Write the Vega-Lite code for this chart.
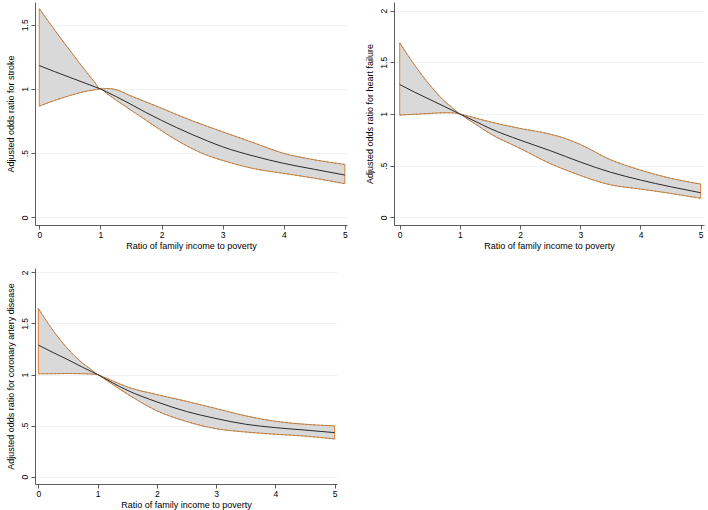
{
  "$schema": "https://vega.github.io/schema/vega-lite/v6.json",
  "background": "white",
  "padding": {"left": 6, "top": 2, "right": 2, "bottom": 0},
  "bounds": "flush",
  "columns": 2,
  "spacing": {"row": 43, "column": 47},
  "datasets": {
    "stroke": [
      {"x": 0, "lo": 0.866, "est": 1.182, "hi": 1.625},
      {"x": 0.25, "lo": 0.91, "est": 1.135, "hi": 1.46},
      {"x": 0.5, "lo": 0.948, "est": 1.09, "hi": 1.3},
      {"x": 0.75, "lo": 0.98, "est": 1.045, "hi": 1.145},
      {"x": 0.9, "lo": 0.993, "est": 1.018, "hi": 1.056},
      {"x": 1, "lo": 1, "est": 1, "hi": 1},
      {"x": 1.1, "lo": 0.966, "est": 0.977, "hi": 1.003},
      {"x": 1.25, "lo": 0.915, "est": 0.942, "hi": 0.995},
      {"x": 1.5, "lo": 0.835, "est": 0.88, "hi": 0.945},
      {"x": 1.75, "lo": 0.755, "est": 0.815, "hi": 0.898},
      {"x": 2, "lo": 0.675, "est": 0.755, "hi": 0.85},
      {"x": 2.25, "lo": 0.6, "est": 0.698, "hi": 0.8},
      {"x": 2.5, "lo": 0.535, "est": 0.645, "hi": 0.752},
      {"x": 2.75, "lo": 0.482, "est": 0.595, "hi": 0.708},
      {"x": 3, "lo": 0.443, "est": 0.549, "hi": 0.666},
      {"x": 3.5, "lo": 0.38, "est": 0.478, "hi": 0.582},
      {"x": 4, "lo": 0.342, "est": 0.42, "hi": 0.498},
      {"x": 4.5, "lo": 0.305, "est": 0.374, "hi": 0.448},
      {"x": 5, "lo": 0.262, "est": 0.329, "hi": 0.412}
    ],
    "hf": [
      {"x": 0, "lo": 0.989, "est": 1.285, "hi": 1.688},
      {"x": 0.25, "lo": 0.997, "est": 1.21, "hi": 1.47},
      {"x": 0.5, "lo": 1.005, "est": 1.14, "hi": 1.28},
      {"x": 0.75, "lo": 1.012, "est": 1.07, "hi": 1.12},
      {"x": 0.9, "lo": 1.01, "est": 1.028, "hi": 1.048},
      {"x": 1, "lo": 1, "est": 1, "hi": 1},
      {"x": 1.1, "lo": 0.962, "est": 0.972, "hi": 0.985},
      {"x": 1.25, "lo": 0.905, "est": 0.93, "hi": 0.962},
      {"x": 1.5, "lo": 0.81, "est": 0.86, "hi": 0.924},
      {"x": 2, "lo": 0.667, "est": 0.747, "hi": 0.86},
      {"x": 2.5, "lo": 0.52, "est": 0.645, "hi": 0.805},
      {"x": 2.75, "lo": 0.46, "est": 0.59, "hi": 0.763},
      {"x": 3, "lo": 0.405, "est": 0.535, "hi": 0.705},
      {"x": 3.5, "lo": 0.315, "est": 0.437, "hi": 0.558},
      {"x": 4, "lo": 0.274, "est": 0.361, "hi": 0.457},
      {"x": 4.5, "lo": 0.232, "est": 0.296, "hi": 0.378},
      {"x": 5, "lo": 0.184, "est": 0.238, "hi": 0.322}
    ],
    "cad": [
      {"x": 0, "lo": 1.007, "est": 1.288, "hi": 1.647},
      {"x": 0.25, "lo": 1.008, "est": 1.215, "hi": 1.43},
      {"x": 0.5, "lo": 1.01, "est": 1.145, "hi": 1.25},
      {"x": 0.75, "lo": 1.008, "est": 1.07, "hi": 1.11},
      {"x": 0.9, "lo": 1.004, "est": 1.028, "hi": 1.045},
      {"x": 1, "lo": 1, "est": 1, "hi": 1},
      {"x": 1.1, "lo": 0.963, "est": 0.968, "hi": 0.976},
      {"x": 1.25, "lo": 0.905, "est": 0.92, "hi": 0.94},
      {"x": 1.5, "lo": 0.81, "est": 0.846, "hi": 0.879},
      {"x": 2, "lo": 0.645, "est": 0.732, "hi": 0.804},
      {"x": 2.5, "lo": 0.54, "est": 0.638, "hi": 0.738},
      {"x": 3, "lo": 0.47, "est": 0.569, "hi": 0.667},
      {"x": 3.5, "lo": 0.437, "est": 0.513, "hi": 0.595},
      {"x": 4, "lo": 0.415, "est": 0.48, "hi": 0.542},
      {"x": 4.5, "lo": 0.397, "est": 0.456, "hi": 0.513},
      {"x": 5, "lo": 0.369, "est": 0.431, "hi": 0.497}
    ]
  },
  "concat": [
    {
      "width": 312, "height": 223,
      "data": {"name": "stroke"},
      "encoding": {
        "x": {"field": "x", "type": "quantitative", "title": "Ratio of family income to poverty",
              "scale": {"domain": [-0.07, 5.035], "nice": false, "zero": false},
              "axis": {"values": [0, 1, 2, 3, 4, 5]}}
      },
      "layer": [
        {"mark": {"type": "area", "fill": "#d9d9d9", "stroke": "#e0832f", "strokeWidth": 1, "interpolate": "monotone"},
         "encoding": {"y": {"field": "lo", "type": "quantitative", "title": "Adjusted odds ratio for stroke",
                            "scale": {"domain": [-0.06, 1.677], "nice": false, "zero": false},
                            "axis": {"values": [0, 0.5, 1, 1.5]}},
                      "y2": {"field": "hi"}}},
        {"mark": {"type": "line", "color": "#777777", "strokeWidth": 0.6, "strokeDash": [2, 2], "interpolate": "monotone"},
         "encoding": {"y": {"field": "lo", "type": "quantitative", "title": "Adjusted odds ratio for stroke"}}},
        {"mark": {"type": "line", "color": "#777777", "strokeWidth": 0.6, "strokeDash": [2, 2], "interpolate": "monotone"},
         "encoding": {"y": {"field": "hi", "type": "quantitative", "title": "Adjusted odds ratio for stroke"}}},
        {"mark": {"type": "line", "color": "#2a2a2a", "strokeWidth": 1, "interpolate": "monotone"},
         "encoding": {"y": {"field": "est", "type": "quantitative", "title": "Adjusted odds ratio for stroke"}}}
      ]
    },
    {
      "width": 310, "height": 223,
      "data": {"name": "hf"},
      "encoding": {
        "x": {"field": "x", "type": "quantitative", "title": "Ratio of family income to poverty",
              "scale": {"domain": [-0.095, 5.055], "nice": false, "zero": false},
              "axis": {"values": [0, 1, 2, 3, 4, 5]}}
      },
      "layer": [
        {"mark": {"type": "area", "fill": "#d9d9d9", "stroke": "#e0832f", "strokeWidth": 1, "interpolate": "monotone"},
         "encoding": {"y": {"field": "lo", "type": "quantitative", "title": "Adjusted odds ratio for heart failure",
                            "scale": {"domain": [-0.074, 2.083], "nice": false, "zero": false},
                            "axis": {"values": [0, 0.5, 1, 1.5, 2]}},
                      "y2": {"field": "hi"}}},
        {"mark": {"type": "line", "color": "#777777", "strokeWidth": 0.6, "strokeDash": [2, 2], "interpolate": "monotone"},
         "encoding": {"y": {"field": "lo", "type": "quantitative", "title": "Adjusted odds ratio for heart failure"}}},
        {"mark": {"type": "line", "color": "#777777", "strokeWidth": 0.6, "strokeDash": [2, 2], "interpolate": "monotone"},
         "encoding": {"y": {"field": "hi", "type": "quantitative", "title": "Adjusted odds ratio for heart failure"}}},
        {"mark": {"type": "line", "color": "#2a2a2a", "strokeWidth": 1, "interpolate": "monotone"},
         "encoding": {"y": {"field": "est", "type": "quantitative", "title": "Adjusted odds ratio for heart failure"}}}
      ]
    },
    {
      "width": 302, "height": 216,
      "data": {"name": "cad"},
      "encoding": {
        "x": {"field": "x", "type": "quantitative", "title": "Ratio of family income to poverty",
              "scale": {"domain": [-0.056, 5.04], "nice": false, "zero": false},
              "axis": {"values": [0, 1, 2, 3, 4, 5]}}
      },
      "layer": [
        {"mark": {"type": "area", "fill": "#d9d9d9", "stroke": "#e0832f", "strokeWidth": 1, "interpolate": "monotone"},
         "encoding": {"y": {"field": "lo", "type": "quantitative", "title": "Adjusted odds ratio for coronary artery disease",
                            "scale": {"domain": [-0.072, 2.043], "nice": false, "zero": false},
                            "axis": {"values": [0, 0.5, 1, 1.5, 2]}},
                      "y2": {"field": "hi"}}},
        {"mark": {"type": "line", "color": "#777777", "strokeWidth": 0.6, "strokeDash": [2, 2], "interpolate": "monotone"},
         "encoding": {"y": {"field": "lo", "type": "quantitative", "title": "Adjusted odds ratio for coronary artery disease"}}},
        {"mark": {"type": "line", "color": "#777777", "strokeWidth": 0.6, "strokeDash": [2, 2], "interpolate": "monotone"},
         "encoding": {"y": {"field": "hi", "type": "quantitative", "title": "Adjusted odds ratio for coronary artery disease"}}},
        {"mark": {"type": "line", "color": "#2a2a2a", "strokeWidth": 1, "interpolate": "monotone"},
         "encoding": {"y": {"field": "est", "type": "quantitative", "title": "Adjusted odds ratio for coronary artery disease"}}}
      ]
    }
  ],
  "config": {
    "font": "Liberation Sans",
    "view": {"stroke": null},
    "axis": {
      "domainColor": "#333333", "domainWidth": 0.8,
      "tickColor": "#333333", "tickWidth": 0.8, "tickSize": 4,
      "labelColor": "#000000", "labelFontSize": 8.5, "labelFont": "Liberation Sans",
      "titleColor": "#000000", "titleFontSize": 9, "titleFontWeight": "normal", "titleFont": "Liberation Sans"
    },
    "axisX": {
      "grid": false, "labelPadding": 1, "labelAngle": 0, "minExtent": 13.5, "maxExtent": 13.5, "titlePadding": 3
    },
    "axisY": {
      "grid": true, "gridColor": "#e8eff1", "gridWidth": 0.8,
      "labelAngle": -90, "labelAlign": "center", "labelBaseline": "bottom", "labelPadding": 2,
      "minExtent": 15, "maxExtent": 15, "titlePadding": 5,
      "labelExpr": "datum.value == 0.5 ? '.5' : toString(datum.value)"
    }
  }
}
